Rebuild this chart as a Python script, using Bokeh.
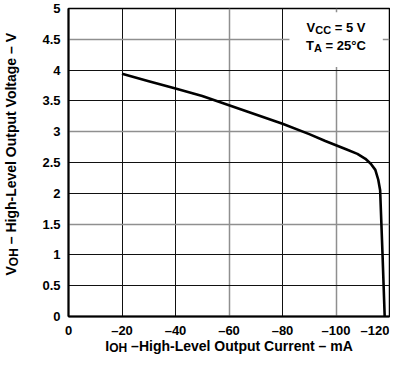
import math
from bokeh.plotting import figure
from bokeh.models import Range1d, FixedTicker, Grid, Label, BoxAnnotation
from bokeh.layouts import column, row
from bokeh.embed import file_html
from bokeh.resources import INLINE

# ---- data ----
current_ma = [-20, -30, -40, -50, -60, -70, -80, -90, -96, -104, -108, -111,
              -113, -114.7, -115.8, -116.5, -117.4, -118.2]
voltage_v = [3.94, 3.82, 3.70, 3.58, 3.43, 3.28, 3.13, 2.96, 2.85, 2.71, 2.64, 2.56,
             2.48, 2.38, 2.22, 2.05, 1.00, 0.00]

x_ticks = [0, -20, -40, -60, -80, -100, -120]
x_tick_labels = ["0", "\u201320", "\u201340", "\u201360", "\u201380", "\u2013100", "\u2013120"]
y_ticks = [0, 0.5, 1, 1.5, 2, 2.5, 3, 3.5, 4, 4.5, 5]
y_tick_labels = ["0", "0.5", "1", "1.5", "2", "2.5", "3", "3.5", "4", "4.5", "5"]
x_grid_dark = [-20, -40, -80]
x_grid_light = [-60, -100]
y_grid_dark = [0.5, 1, 2, 2.5, 3.5, 4]
y_grid_light = [1.5, 3, 4.5]

FONT = "Liberation Sans"
TOTAL_W, TOTAL_H = 390, 354
WY = 24          # strip holding the rotated y title
H1 = 324         # height of the main plot
HX = TOTAL_H - H1
FRAME_LEFT = 68

p = figure(width=TOTAL_W - WY, height=H1, x_range=Range1d(0, -120), y_range=Range1d(0, 5),
           output_backend="svg", toolbar_location=None,
           min_border_left=FRAME_LEFT - WY, min_border_right=1, min_border_top=8, min_border_bottom=8)
p.background_fill_color = "white"
p.border_fill_color = "white"
p.outline_line_color = "black"
p.outline_line_width = 1.5

p.xgrid.grid_line_color = None
p.ygrid.grid_line_color = None
p.add_layout(Grid(dimension=0, ticker=FixedTicker(ticks=x_grid_dark), grid_line_color="#111111", grid_line_width=1))
p.add_layout(Grid(dimension=0, ticker=FixedTicker(ticks=x_grid_light), grid_line_color="#8f8f8f", grid_line_width=1.5))
p.add_layout(Grid(dimension=1, ticker=FixedTicker(ticks=y_grid_dark), grid_line_color="#111111", grid_line_width=1))
p.add_layout(Grid(dimension=1, ticker=FixedTicker(ticks=y_grid_light), grid_line_color="#8f8f8f", grid_line_width=1.5))

for ax in (p.xaxis[0], p.yaxis[0]):
    ax.axis_line_color = "black"
    ax.axis_line_width = 2
    ax.major_tick_line_color = None
    ax.minor_tick_line_color = None
    ax.major_tick_in = 0
    ax.major_tick_out = 0
    ax.major_label_text_font = FONT
    ax.major_label_text_font_style = "bold"
    ax.major_label_text_font_size = "13px"
    ax.major_label_text_color = "black"

# x tick labels are written in the strip below (so the last one can stay on the canvas)
p.xaxis.ticker = FixedTicker(ticks=[])
p.xaxis.major_label_standoff = 0
p.yaxis.ticker = FixedTicker(ticks=y_ticks)
p.yaxis.major_label_overrides = {t: s for t, s in zip(y_ticks, y_tick_labels)}
p.yaxis.major_label_standoff = 8

# curve
p.line(current_ma, voltage_v, line_color="black", line_width=2.6)

def lab(fig, text, x, y, xo, yo, size, angle=0.0, x_units="data", y_units="data",
        align="left", place="center"):
    fig.add_layout(Label(x=x, y=y, x_offset=xo, y_offset=yo, text=text, angle=angle,
                         x_units=x_units, y_units=y_units,
                         text_align=align, text_baseline="alphabetic", text_font=FONT,
                         text_font_style="bold", text_font_size=size, text_color="black"),
                   place)

# condition box
p.add_layout(BoxAnnotation(left=-82.6, right=-117.5, bottom=4.05, top=4.94,
                           fill_color="white", fill_alpha=1.0, line_color=None))
lab(p, "V", -100, 4.66, -29.5, 2, "13px")
lab(p, "CC", -100, 4.66, -20.8, -0.5, "11px")
lab(p, "= 5 V", -100, 4.66, -1.3, 2, "13px")
lab(p, "T", -100, 4.36, -29.9, 2, "13px")
lab(p, "A", -100, 4.36, -21.9, -0.5, "11px")
lab(p, "= 25\u00b0C", -100, 4.36, -10.4, 2, "13px")

def strip(w, h, **kw):
    f = figure(width=w, height=h, x_axis_type=None, y_axis_type=None,
               toolbar_location=None, output_backend="svg", **kw)
    f.outline_line_color = None
    f.background_fill_color = "white"
    f.border_fill_color = "white"
    f.xgrid.visible = False
    f.ygrid.visible = False
    return f

# rotated y title: V_OH – High-Level Output Voltage – V
py = strip(WY, H1, min_border=0)
a = math.pi / 2
y0 = 41
bx = 10.5
lab(py, "V", bx, y0, 0, 0, "14px", angle=a, x_units="screen", y_units="screen")
lab(py, "OH", bx + 3, y0 + 9.3, 0, 0, "12px", angle=a, x_units="screen", y_units="screen")
lab(py, "\u2013 High-Level Output Voltage \u2013 V", bx, y0 + 9.3 + 18 + 3.9, 0, 0, "14px",
    angle=a, x_units="screen", y_units="screen")

# strip below: x tick labels (sharing the x scale) and x title
px = strip(TOTAL_W, HX, x_range=p.x_range, y_range=Range1d(0, 1),
           min_border_left=FRAME_LEFT, min_border_right=1, min_border_top=0, min_border_bottom=0)
ty = 24
for t, s in zip(x_ticks, x_tick_labels):
    if t == x_ticks[0]:
        lab(px, s, t, ty, 0, 0, "13px", y_units="screen", align="center", place="left")
    elif t == x_ticks[-1]:
        lab(px, s, t, ty, 0, 0, "13px", y_units="screen", align="right")
    else:
        lab(px, s, t, ty, 0, 0, "13px", y_units="screen", align="center")

# x title: I_OH –High-Level Output Current – mA
lab(px, "I", 36.8, 9, 0, 0, "14px", x_units="screen", y_units="screen")
lab(px, "OH", 40.7, 6.5, 0, 0, "12px", x_units="screen", y_units="screen")
lab(px, "\u2013High-Level Output Current \u2013 mA", 62.6, 9, 0, 0, "14px",
    x_units="screen", y_units="screen")

layout = column(row(py, p), px)
open("out.html", "w").write(file_html(layout, INLINE))
